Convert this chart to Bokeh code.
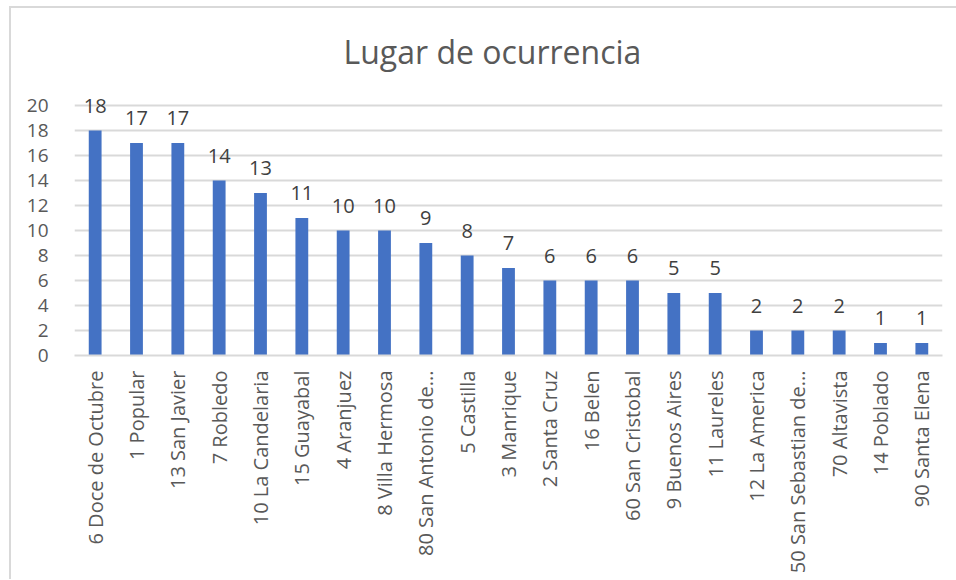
import math
from bokeh.plotting import figure
from bokeh.models import ColumnDataSource, LabelSet, FactorRange, Range1d, Title, FixedTicker
from bokeh.core.properties import value
from bokeh.embed import file_html
from bokeh.resources import INLINE

categories = ["6 Doce de Octubre", "1 Popular", "13 San Javier", "7 Robledo", "10 La Candelaria",
              "15 Guayabal", "4 Aranjuez", "8 Villa Hermosa", "80 San Antonio de...", "5 Castilla",
              "3 Manrique", "2 Santa Cruz", "16 Belen", "60 San Cristobal", "9 Buenos Aires",
              "11 Laureles", "12 La America", "50 San Sebastian de...", "70 Altavista", "14 Poblado",
              "90 Santa Elena"]
values = [18, 17, 17, 14, 13, 11, 10, 10, 9, 8, 7, 6, 6, 6, 5, 5, 2, 2, 2, 1, 1]
y_ticks = [0, 2, 4, 6, 8, 10, 12, 14, 16, 18, 20]
title_text = "Lugar de ocurrencia"

FONT = "Open Sans"
GREY = "#595959"

src = ColumnDataSource(dict(cat=categories, val=values, lab=[str(v) for v in values]))

p = figure(x_range=FactorRange(*categories, range_padding=0), y_range=Range1d(0, 21.04),
           frame_width=868, frame_height=263,
           min_border_left=63, min_border_right=14, min_border_top=84, min_border_bottom=224,
           output_backend="svg", toolbar_location=None)
p.styles = {"margin-left": "9px", "margin-top": "6px",
            "border-left": "2px solid #d9d9d9", "border-top": "2px solid #d9d9d9"}

p.add_layout(Title(text=title_text, align="left", text_font=FONT, text_font_size="32px",
                   text_font_style="normal", text_color=GREY, standoff=39, offset=269), "above")

p.vbar(x="cat", top="val", width=0.31, source=src, fill_color="#4472C4", line_color=None)

labels = LabelSet(x="cat", y="val", text="lab", source=src, text_align="center",
                  text_baseline="alphabetic", y_offset=18, text_font=value(FONT),
                  text_font_size="20px", text_color="#404040")
p.add_layout(labels)

p.outline_line_color = None
p.xgrid.grid_line_color = None
p.ygrid.grid_line_color = "#d9d9d9"
p.ygrid.grid_line_width = 2
p.yaxis.ticker = FixedTicker(ticks=y_ticks)
p.yaxis.axis_line_color = None
p.yaxis.major_tick_line_color = None
p.yaxis.minor_tick_line_color = None
p.yaxis.major_label_standoff = 20
p.yaxis.major_label_text_font = FONT
p.yaxis.major_label_text_font_size = "19px"
p.yaxis.major_label_text_color = GREY

p.xaxis.axis_line_color = "#d9d9d9"
p.xaxis.axis_line_width = 2
p.xaxis.major_tick_line_color = None
p.xaxis.minor_tick_line_color = None
p.xaxis.major_label_orientation = math.pi / 2
p.xaxis.major_label_standoff = 9
p.xaxis.major_label_text_font = FONT
p.xaxis.major_label_text_font_size = "20px"
p.xaxis.major_label_text_color = GREY

open("out.html", "w").write(file_html(p, INLINE))
